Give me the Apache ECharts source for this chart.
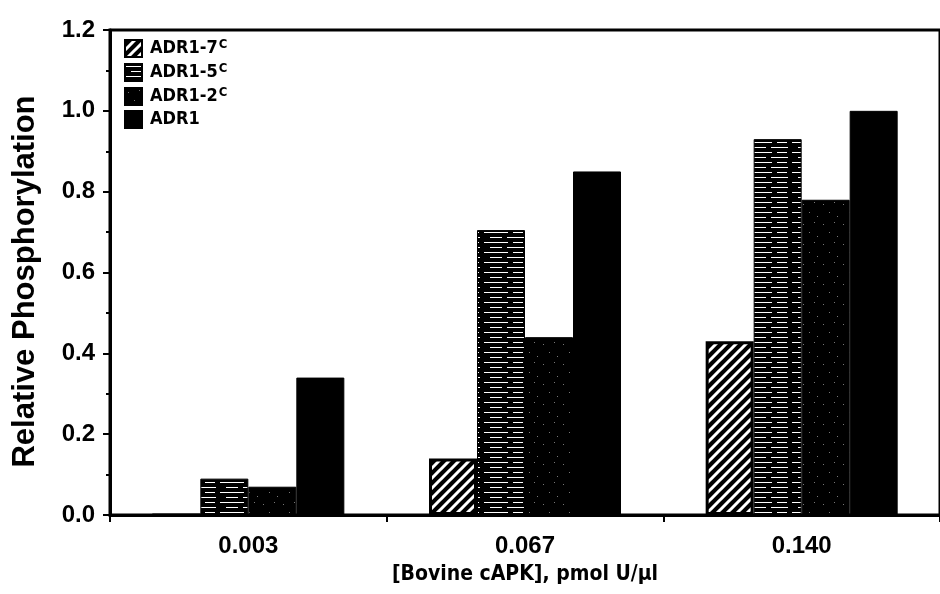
<!DOCTYPE html>
<html>
<head>
<meta charset="utf-8">
<script src="https://cdn.jsdelivr.net/npm/echarts@6/dist/echarts.min.js"></script>
<style>
  html, body { margin: 0; padding: 0; background: #fff; }
  #chart { width: 940px; height: 594px; }
</style>
</head>
<body>
<div id="chart"></div>
<script>
// ---- data ----
const categories = ['0.003', '0.067', '0.140'];
const seriesNames = ['ADR1-7C', 'ADR1-5C', 'ADR1-2C', 'ADR1'];
const adr1_7c = [0, 0.14, 0.43];
const adr1_5c = [0.09, 0.705, 0.93];
const adr1_2c = [0.07, 0.44, 0.78];
const adr1 = [0.34, 0.85, 1.00];
const yTickLabels = ['0.0', '0.2', '0.4', '0.6', '0.8', '1.0', '1.2'];

// ---- patterns ----
function makeCanvas(w, h) {
  const c = document.createElement('canvas');
  c.width = w; c.height = h;
  return c;
}
function hatchPattern() {
  const c = makeCanvas(10, 10);
  const g = c.getContext('2d');
  g.fillStyle = '#000'; g.fillRect(0, 0, 10, 10);
  g.strokeStyle = '#fff'; g.lineWidth = 3;
  g.beginPath();
  g.moveTo(-1, 11); g.lineTo(11, -1);
  g.moveTo(-6, 6); g.lineTo(6, -6);
  g.moveTo(4, 16); g.lineTo(16, 4);
  g.stroke();
  return c;
}
function linesPattern() {
  const c = makeCanvas(44, 10);
  const g = c.getContext('2d');
  g.fillStyle = '#000'; g.fillRect(0, 0, 44, 10);
  g.fillStyle = '#fff';
  g.fillRect(0, 2, 24, 1);
  g.fillRect(29, 2, 10, 1);
  g.fillRect(6, 7, 12, 1);
  g.fillRect(23, 7, 17, 1);
  return c;
}
function speckPattern() {
  const c = makeCanvas(20, 20);
  const g = c.getContext('2d');
  g.fillStyle = '#000'; g.fillRect(0, 0, 20, 20);
  g.fillStyle = '#777';
  [[3, 4], [14, 2], [9, 12], [17, 16]].forEach(p => g.fillRect(p[0], p[1], 1, 1));
  return c;
}
const fills = [
  { image: hatchPattern(), repeat: 'repeat' },
  { image: linesPattern(), repeat: 'repeat' },
  { image: speckPattern(), repeat: 'repeat' },
  '#000'
];
const seriesData = [adr1_7c, adr1_5c, adr1_2c, adr1];

const FONT = '"Liberation Sans", Arial, Helvetica, sans-serif';
const NARROW = '"Liberation Sans Narrow", "Arial Narrow", "DejaVu Sans Condensed", "Liberation Sans", sans-serif';

const chart = echarts.init(document.getElementById('chart'), null, { renderer: 'canvas' });
chart.setOption({
  animation: false,
  backgroundColor: '#fff',
  grid: {
    left: 110, top: 30, width: 834, bottom: 79,
    show: true, borderColor: '#000', borderWidth: 3, backgroundColor: 'transparent'
  },
  legend: {
    orient: 'vertical',
    left: 124, top: 38, padding: 0,
    itemWidth: 17, itemHeight: 17, itemGap: 4,
    icon: 'rect',
    data: seriesNames,
    formatter: function (name) {
      return name.endsWith('C') ? name.slice(0, -1) + '{sup|C}' : name;
    },
    textStyle: {
      fontFamily: NARROW, fontWeight: 'bold', fontSize: 18, color: '#000',
      padding: [0, 0, 0, 3],
      rich: { sup: { fontFamily: NARROW, fontWeight: 'bold', fontSize: 13, color: '#000', padding: [0, 0, 8, 1] } }
    }
  },
  xAxis: {
    type: 'category',
    data: categories,
    boundaryGap: true,
    axisLine: { lineStyle: { color: '#000', width: 3 } },
    axisTick: { show: true, length: 7, lineStyle: { color: '#000', width: 2 } },
    axisLabel: { fontFamily: FONT, fontWeight: 'bold', fontSize: 24, color: '#000', margin: 19 },
    name: '[Bovine cAPK], pmol U/\u00B5l',
    nameLocation: 'middle',
    nameGap: 49,
    nameTextStyle: { fontFamily: NARROW, fontWeight: 'bold', fontSize: 21, color: '#000' }
  },
  yAxis: {
    type: 'value',
    min: 0, max: 1.2, interval: 0.2,
    axisLine: { show: true, lineStyle: { color: '#000', width: 3 } },
    axisTick: { show: true, length: 7, lineStyle: { color: '#000', width: 2 } },
    minorTick: { show: true, splitNumber: 2, length: 4, lineStyle: { color: '#000', width: 2 } },
    splitLine: { show: false },
    axisLabel: {
      fontFamily: FONT, fontWeight: 'bold', fontSize: 24, color: '#000', margin: 15,
      formatter: function (v) { return yTickLabels[Math.round(v / 0.2)]; }
    },
    name: 'Relative Phosphorylation',
    nameLocation: 'middle',
    nameGap: 69,
    nameTextStyle: { fontFamily: FONT, fontWeight: 'bold', fontSize: 31, color: '#000', padding: [0, 18, 0, 0] }
  },
  series: seriesNames.map((n, i) => ({
    name: n,
    type: 'bar',
    data: seriesData[i],
    barWidth: 48,
    barGap: '0%',
    itemStyle: { color: fills[i], borderColor: '#000', borderWidth: i === 0 ? 3 : 1 }
  }))
});
</script>
</body>
</html>
